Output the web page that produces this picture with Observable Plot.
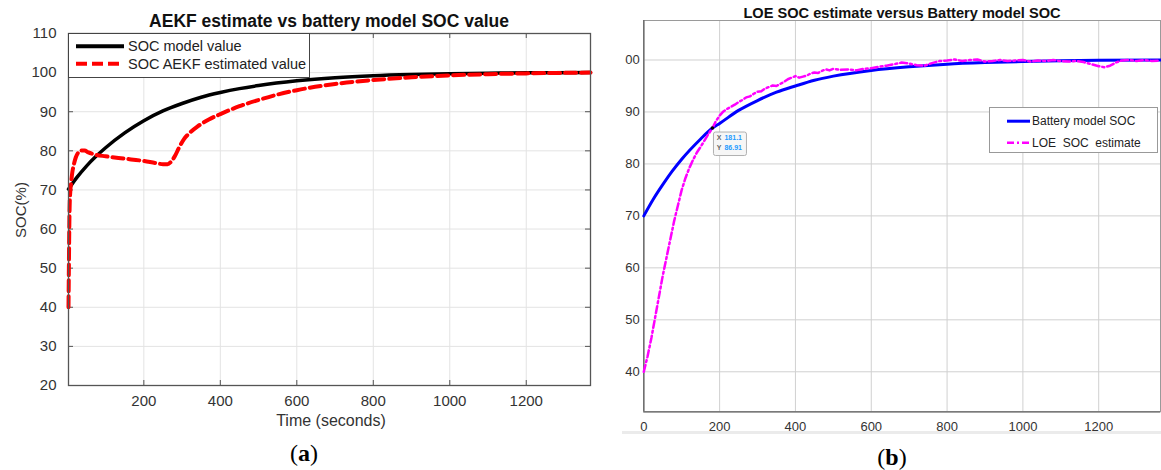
<!DOCTYPE html>
<html>
<head>
<meta charset="utf-8">
<script src="https://cdn.jsdelivr.net/npm/d3@7"></script>
<script src="https://cdn.jsdelivr.net/npm/@observablehq/plot@0.6"></script>
<style>
  body { margin: 0; background: #fff; }
  #root { position: relative; width: 1161px; height: 470px; overflow: hidden; font-family: "Liberation Sans", Arial, sans-serif; }
  .abs { position: absolute; white-space: pre; line-height: 1; }
  .c { transform: translate(-50%, -50%); }
</style>
</head>
<body>
<div id="root"></div>
<script>
// ---------- Panel (a) data ----------
const timeModelA = [3, 25, 50, 75, 100, 150, 200, 250, 300, 350, 400, 450, 500, 600, 700, 800, 900, 1000, 1100, 1200, 1368];
const socModelA  = [70.2, 73.2, 76.1, 78.6, 80.8, 84.6, 87.7, 90.2, 92.1, 93.7, 94.9, 95.9, 96.7, 97.9, 98.7, 99.2, 99.5, 99.7, 99.85, 99.95, 100];
const timeAekf = [3, 4, 5, 6, 8, 10, 13, 17, 22, 28, 35, 45, 55, 70, 100, 150, 200, 230, 250, 262, 272, 282, 292, 305, 320, 340, 370, 400, 450, 500, 550, 600, 700, 800, 900, 1000, 1100, 1200, 1368];
const socAekf  = [40, 50, 60, 66, 70, 72, 74.5, 76.5, 78.3, 79.5, 80.1, 80.1, 79.6, 79.1, 78.6, 78.0, 77.4, 76.9, 76.6, 76.6, 77.3, 78.8, 80.8, 83.0, 84.6, 86.2, 88.0, 89.4, 91.4, 93.0, 94.4, 95.5, 97.1, 98.1, 98.8, 99.3, 99.6, 99.8, 100];
const xTicksA = [200, 400, 600, 800, 1000, 1200];
const yTicksA = [20, 30, 40, 50, 60, 70, 80, 90, 100, 110];
const xDomainA = [3, 1368];
const yDomainA = [20, 110];

// ---------- Panel (b) data ----------
const timeModelB = [0, 25, 50, 75, 100, 150, 181.1, 200, 250, 300, 350, 400, 450, 500, 600, 700, 800, 900, 1000, 1100, 1200, 1363];
const socModelB  = [70, 73.2, 76.0, 78.6, 80.9, 84.8, 86.91, 87.8, 90.3, 92.2, 93.8, 95.0, 96.1, 96.9, 98.0, 98.7, 99.2, 99.5, 99.7, 99.85, 99.95, 100];
const timeLoe = [0, 10, 20, 30, 40, 50, 60, 70, 80, 90, 100, 110, 120, 130, 140, 150, 160, 170, 181.1, 190, 200, 210, 220, 230, 240, 250, 260, 270, 280, 290, 300, 310, 320, 330, 340, 350, 360, 370, 380, 390, 400, 410, 420, 430, 440, 450, 460, 470, 480, 490, 500, 520, 540, 560, 580, 600, 620, 640, 660, 680, 700, 720, 740, 760, 780, 800, 820, 840, 860, 880, 900, 920, 940, 960, 980, 1000, 1020, 1040, 1060, 1080, 1100, 1120, 1140, 1160, 1180, 1200, 1215, 1230, 1245, 1260, 1280, 1300, 1320, 1340, 1363];
const socLoe  = [40, 43, 46.5, 50.5, 54.5, 58.5, 62, 65.5, 69, 72, 75, 77.3, 79.2, 80.8, 82.2, 83.3, 84.5, 85.7, 86.91, 88.2, 89.3, 90.1, 90.6, 91.0, 91.4, 91.9, 92.3, 92.8, 93.0, 93.5, 93.9, 94.0, 94.5, 94.8, 95.1, 95.0, 95.4, 95.8, 96.3, 96.6, 96.9, 96.6, 96.8, 97.0, 97.4, 97.6, 97.5, 97.9, 98.2, 98.0, 98.3, 98.1, 98.2, 98.0, 98.3, 98.4, 98.7, 98.9, 99.2, 99.5, 99.3, 99.0, 98.9, 99.4, 99.8, 99.9, 100.1, 99.8, 100.0, 100.1, 99.7, 99.8, 100.0, 99.8, 99.9, 100.0, 99.7, 99.9, 99.8, 100.0, 99.8, 99.7, 99.8, 99.6, 99.2, 98.8, 98.6, 98.9, 99.5, 99.9, 100.0, 99.8, 100.0, 99.8, 99.9];
const xTicksB = [0, 200, 400, 600, 800, 1000, 1200];
const yTicksB = [40, 50, 60, 70, 80, 90, 100];
const yTickLabelsB = ["40", "50", "60", "70", "80", "90", "00"];
const xDomainB = [0, 1363];
const yDomainB = [32.3, 107.6];
const tipX = 181.1, tipY = 86.91;

// ---------- Text ----------
const titleA = "AEKF estimate vs battery model SOC value";
const titleB = "LOE SOC estimate versus Battery model SOC";
const xLabelA = "Time (seconds)";
const yLabelA = "SOC(%)";
const legendA = ["SOC model value", "SOC AEKF estimated value"];
const legendB = ["Battery model SOC", "LOE  SOC  estimate"];
const captionA = "a", captionB = "b";

const root = document.getElementById("root");
const zip = (ts, vs) => ts.map((t, i) => ({t, v: vs[i]}));
const plain = d => String(d);

// ---------- Chart (a) ----------
const innerHA = 430 - 33 - 45, innerWA = 600 - 68 - 10;
const chartA = Plot.plot({
  width: 600, height: 430,
  marginLeft: 68, marginRight: 10, marginTop: 33, marginBottom: 45,
  style: {fontFamily: "Liberation Sans, Arial, sans-serif", fontSize: "15px", color: "#333", background: "transparent", overflow: "visible"},
  x: {domain: xDomainA, ticks: xTicksA, tickSize: 0, tickPadding: 10, label: null, tickFormat: plain},
  y: {domain: yDomainA, ticks: yTicksA, tickSize: 0, tickPadding: 12, label: null, tickFormat: plain},
  marks: [
    Plot.ruleX(xTicksA, {x: d => d, stroke: "#e3e3e3"}),
    Plot.ruleY(yTicksA, {y: d => d, stroke: "#e3e3e3"}),
    Plot.tickX(xTicksA, {x: d => d, insetTop: innerHA - 5, stroke: "#555"}),
    Plot.tickX(xTicksA, {x: d => d, insetBottom: innerHA - 5, stroke: "#555"}),
    Plot.tickY(yTicksA, {y: d => d, insetRight: innerWA - 5, stroke: "#555"}),
    Plot.tickY(yTicksA, {y: d => d, insetLeft: innerWA - 5, stroke: "#555"}),
    Plot.line(zip(timeModelA, socModelA), {x: "t", y: "v", stroke: "#000", strokeWidth: 3.5, curve: "monotone-x"}),
    Plot.line(zip(timeAekf, socAekf), {x: "t", y: "v", stroke: "#ff0000", strokeWidth: 4, strokeDasharray: "11,5", curve: "monotone-x"}),
    Plot.frame({stroke: "#555", strokeWidth: 1.3})
  ]
});
chartA.style.position = "absolute";
chartA.style.left = "0px";
chartA.style.top = "0px";
root.appendChild(chartA);

// ---------- Chart (b) ----------
const chartB = Plot.plot({
  width: 561, height: 440,
  marginLeft: 43.3, marginRight: 1, marginTop: 20, marginBottom: 28.7,
  style: {fontFamily: "Liberation Sans, Arial, sans-serif", fontSize: "13px", color: "#333", background: "transparent", overflow: "visible"},
  x: {domain: xDomainB, ticks: xTicksB, tickSize: 0, tickPadding: 10, label: null, tickFormat: plain},
  y: {domain: yDomainB, ticks: yTicksB, tickSize: 0, tickPadding: 4, label: null,
      tickFormat: d => yTickLabelsB[yTicksB.indexOf(d)]},
  marks: [
    Plot.ruleX(xTicksB, {x: d => d, stroke: "#d0d0d0"}),
    Plot.ruleY(yTicksB, {y: d => d, stroke: "#d0d0d0"}),
    Plot.frame({stroke: "#9a9a9a", strokeWidth: 1}),
    Plot.ruleX([xDomainB[0]], {x: d => d, stroke: "#666", strokeWidth: 1.3}),
    Plot.ruleY([yDomainB[0]], {y: d => d, stroke: "#666", strokeWidth: 1.3}),
    Plot.line(zip(timeModelB, socModelB), {x: "t", y: "v", stroke: "#0000ff", strokeWidth: 3, curve: "monotone-x"}),
    Plot.line(zip(timeLoe, socLoe), {x: "t", y: "v", stroke: "#ff00ff", strokeWidth: 2.5, strokeDasharray: "7,3,2,3"}),
    Plot.dot([{t: tipX, v: tipY}], {x: "t", y: "v", r: 1.8, fill: "#000"})
  ]
});
chartB.style.position = "absolute";
chartB.style.left = "600px";
chartB.style.top = "0px";
root.appendChild(chartB);

// Data tip box positioned with the chart's own scales
{
  const sx = chartB.scale("x"), sy = chartB.scale("y");
  const fx = d3.scaleLinear(sx.domain, sx.range), fy = d3.scaleLinear(sy.domain, sy.range);
  const px = fx(tipX), py = fy(tipY);
  const svg = d3.select(chartB);
  const g = svg.append("g")
    .attr("text-anchor", "start")
    .style("font-family", "Liberation Sans, Arial, sans-serif").style("font-size", "7px").style("font-weight", "bold");
  g.append("rect").attr("x", px + 1.5).attr("y", py + 4.5).attr("width", 33).attr("height", 23.5).attr("rx", 2)
    .attr("fill", "#f6f6f6").attr("stroke", "#b0b0b0").attr("stroke-width", 1);
  g.append("text").attr("x", px + 4.8).attr("y", py + 12.2).attr("text-anchor", "start").text("X").style("fill", "#666");
  g.append("text").attr("x", px + 12.5).attr("y", py + 12.2).attr("text-anchor", "start").text(String(tipX)).style("fill", "#1e9bff");
  g.append("text").attr("x", px + 4.8).attr("y", py + 22.2).attr("text-anchor", "start").text("Y").style("fill", "#666");
  g.append("text").attr("x", px + 12.5).attr("y", py + 22.2).attr("text-anchor", "start").text(String(tipY)).style("fill", "#1e9bff");
}

// ---------- HTML text / legends ----------
function addText(txt, cx, cy, css) {
  const d = document.createElement("div");
  d.className = "abs c";
  d.textContent = txt;
  d.style.left = cx + "px";
  d.style.top = cy + "px";
  Object.assign(d.style, css || {});
  root.appendChild(d);
  return d;
}
addText(titleA, 329, 21.5, {fontSize: "17.5px", fontWeight: "bold", color: "#111"});
addText(titleB, 902, 13, {fontSize: "14.6px", fontWeight: "bold", color: "#111"});
addText(xLabelA, 331, 421, {fontSize: "16px", color: "#333"});
{
  const d = addText(yLabelA, 20, 210, {fontSize: "15px", color: "#333"});
  d.style.transform = "translate(-50%, -50%) rotate(-90deg)";
}
function caption(letter, cx, cy) {
  const d = document.createElement("div");
  d.className = "abs c";
  d.style.left = cx + "px"; d.style.top = cy + "px";
  d.style.fontFamily = "'Liberation Serif', 'DejaVu Serif', serif";
  d.style.fontSize = "24px";
  d.style.color = "#000";
  d.innerHTML = "(<b>" + letter + "</b>)";
  root.appendChild(d);
}
caption(captionA, 304, 453);
caption(captionB, 892, 456.5);

// gray divider under panel b
{
  const d = document.createElement("div");
  d.className = "abs";
  Object.assign(d.style, {left: "622px", top: "430.5px", width: "539px", height: "3px", background: "#ebebeb"});
  root.appendChild(d);
}

// Legend (a)
{
  const box = document.createElement("div");
  box.className = "abs";
  Object.assign(box.style, {left: "68px", top: "33px", width: "242px", height: "45px", border: "1px solid #444", background: "#fff", boxSizing: "border-box"});
  root.appendChild(box);
  const s = d3.create("svg").attr("width", 242).attr("height", 45).style("position", "absolute").style("left", "0").style("top", "0");
  s.append("line").attr("x1", 7).attr("x2", 55).attr("y1", 12.2).attr("y2", 12.2).attr("stroke", "#000").attr("stroke-width", 4);
  s.append("line").attr("x1", 7).attr("x2", 55).attr("y1", 29.8).attr("y2", 29.8).attr("stroke", "#ff0000").attr("stroke-width", 4).attr("stroke-dasharray", "11,5");
  s.append("text").attr("x", 59).attr("y", 12.2).attr("dy", "0.35em").attr("font-size", 14.5).attr("fill", "#222").attr("font-family", "Liberation Sans, Arial, sans-serif").text(legendA[0]);
  s.append("text").attr("x", 59).attr("y", 29.8).attr("dy", "0.35em").attr("font-size", 14.5).attr("fill", "#222").attr("font-family", "Liberation Sans, Arial, sans-serif").text(legendA[1]);
  box.appendChild(s.node());
}
// Legend (b)
{
  const box = document.createElement("div");
  box.className = "abs";
  Object.assign(box.style, {left: "989px", top: "107px", width: "169px", height: "46px", border: "1px solid #999", background: "#fff", boxSizing: "border-box"});
  root.appendChild(box);
  const s = d3.create("svg").attr("width", 169).attr("height", 46).style("position", "absolute").style("left", "0").style("top", "0");
  s.append("line").attr("x1", 17).attr("x2", 40).attr("y1", 13.2).attr("y2", 13.2).attr("stroke", "#0000ff").attr("stroke-width", 3);
  s.append("line").attr("x1", 17).attr("x2", 40).attr("y1", 34.8).attr("y2", 34.8).attr("stroke", "#ff00ff").attr("stroke-width", 2.5).attr("stroke-dasharray", "7,3,2,3");
  s.append("text").attr("x", 42).attr("y", 13.2).attr("dy", "0.35em").attr("font-size", 12).attr("fill", "#222").attr("font-family", "Liberation Sans, Arial, sans-serif").style("white-space", "pre").text(legendB[0]);
  s.append("text").attr("x", 42).attr("y", 34.8).attr("dy", "0.35em").attr("font-size", 12).attr("fill", "#222").attr("font-family", "Liberation Sans, Arial, sans-serif").style("white-space", "pre").attr("xml:space", "preserve").text(legendB[1]);
  box.appendChild(s.node());
}
</script>
</body>
</html>
